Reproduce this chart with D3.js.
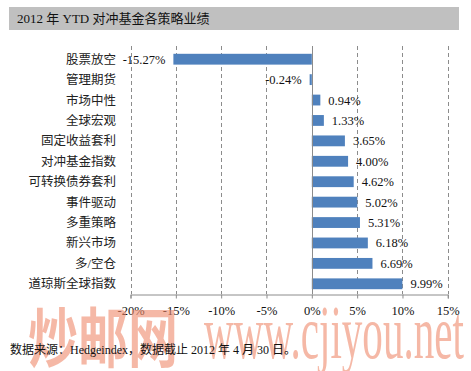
<!DOCTYPE html>
<html>
<head>
<meta charset="utf-8">
<script src="https://cdn.jsdelivr.net/npm/d3@7"></script>
<style>
  body { margin: 0; background: #fff; }
  svg text { font-family: "Liberation Serif", "Noto Sans CJK SC", serif; }
</style>
</head>
<body>
<svg id="chart" width="471" height="371"></svg>
<script>
// categories, top to bottom
var categories = ["股票放空", "管理期货", "市场中性", "全球宏观", "固定收益套利", "对冲基金指数",
    "可转换债券套利", "事件驱动", "多重策略", "新兴市场", "多/空仓", "道琼斯全球指数"];
// YTD returns, percent
var values = [-15.27, -0.24, 0.94, 1.33, 3.65, 4.00, 4.62, 5.02, 5.31, 6.18, 6.69, 9.99];
var tickValues = [-20, -15, -10, -5, 0, 5, 10, 15];

var title = "2012 年 YTD 对冲基金各策略业绩";
var note = "数据来源：Hedgeindex，数据截止 2012 年 4 月 30 日。";

var svg = d3.select("#chart");

// title bar
svg.append("rect")
    .attr("x", 9).attr("y", 7)
    .attr("width", 450).attr("height", 23)
    .attr("fill", "#c0c0c0");
svg.append("text")
    .attr("x", 17).attr("y", 23)
    .attr("font-size", 13)
    .attr("fill", "#111")
    .text(title);

var xScale = d3.scaleLinear().domain([-20, 15]).range([130.5, 447.8]);
var yScale = d3.scaleBand().domain(categories).range([49, 294]).paddingInner(0.47).paddingOuter(0.235);
var plotTop = 46, plotBottom = 294;

// dashed gridlines
svg.append("g").selectAll("line")
    .data(tickValues.filter(function (d) { return d !== 0; }))
    .enter().append("line")
    .attr("x1", function (d) { return Math.round(xScale(d)) + 0.5; })
    .attr("x2", function (d) { return Math.round(xScale(d)) + 0.5; })
    .attr("y1", plotTop).attr("y2", plotBottom)
    .attr("stroke", "#8c8c8c")
    .attr("stroke-dasharray", "4,3");

// bars
svg.append("g").selectAll("rect")
    .data(values)
    .enter().append("rect")
    .attr("x", function (d) { return xScale(Math.min(0, d)); })
    .attr("y", function (d, i) { return yScale(categories[i]); })
    .attr("width", function (d) { return Math.abs(xScale(d) - xScale(0)); })
    .attr("height", yScale.bandwidth())
    .attr("fill", "#4f81bd");

// zero line
svg.append("line")
    .attr("x1", Math.round(xScale(0)) + 0.5).attr("x2", Math.round(xScale(0)) + 0.5)
    .attr("y1", plotTop).attr("y2", plotBottom)
    .attr("stroke", "#8c8c8c");

// x axis
var xAxis = d3.axisBottom(xScale)
    .tickValues(tickValues)
    .tickSize(4)
    .tickPadding(8)
    .tickFormat(function (d) { return d + "%"; });
var gx = svg.append("g")
    .attr("transform", "translate(0," + (plotBottom + 0.5) + ")")
    .call(xAxis);
gx.select(".domain").attr("stroke", "#8c8c8c");
gx.selectAll(".tick line").attr("stroke", "#8c8c8c");
gx.selectAll(".tick text")
    .attr("font-family", "Liberation Serif")
    .attr("font-size", 12.5)
    .attr("fill", "#111");

// category labels
svg.append("g").selectAll("text")
    .data(categories)
    .enter().append("text")
    .attr("x", 116)
    .attr("y", function (d) { return yScale(d) + yScale.bandwidth() / 2; })
    .attr("dy", "0.36em")
    .attr("text-anchor", "end")
    .attr("font-family", "Noto Sans CJK SC")
    .attr("font-size", 12.5)
    .attr("fill", "#222")
    .text(function (d) { return d; });

// value labels
svg.append("g").selectAll("text")
    .data(values)
    .enter().append("text")
    .attr("x", function (d) { return d < 0 ? xScale(d) - 8 : xScale(d) + 8; })
    .attr("y", function (d, i) { return yScale(categories[i]) + yScale.bandwidth() / 2; })
    .attr("dy", "0.36em")
    .attr("text-anchor", function (d) { return d < 0 ? "end" : "start"; })
    .attr("font-size", 12.5)
    .attr("fill", "#111")
    .text(function (d) { return d.toFixed(2) + "%"; });

// watermark
var wm = svg.append("g").attr("fill", "#f08a6c").attr("opacity", 0.6);
wm.append("text")
    .attr("transform", "translate(28,362) scale(1,1.3)")
    .attr("font-family", "Noto Sans CJK SC")
    .attr("font-weight", "bold")
    .attr("font-size", 50)
    .attr("textLength", 150)
    .text("炒邮网");
wm.append("text")
    .attr("x", 204).attr("y", 358)
    .attr("font-family", "Liberation Sans Narrow, Liberation Sans")
    .attr("font-size", 76)
    .attr("textLength", 260)
    .attr("lengthAdjust", "spacingAndGlyphs")
    .text("www.cjiyou.net");

// footnote
svg.append("text")
    .attr("x", 10).attr("y", 354)
    .attr("font-size", 12)
    .attr("fill", "#111")
    .text(note);
</script>
</body>
</html>
